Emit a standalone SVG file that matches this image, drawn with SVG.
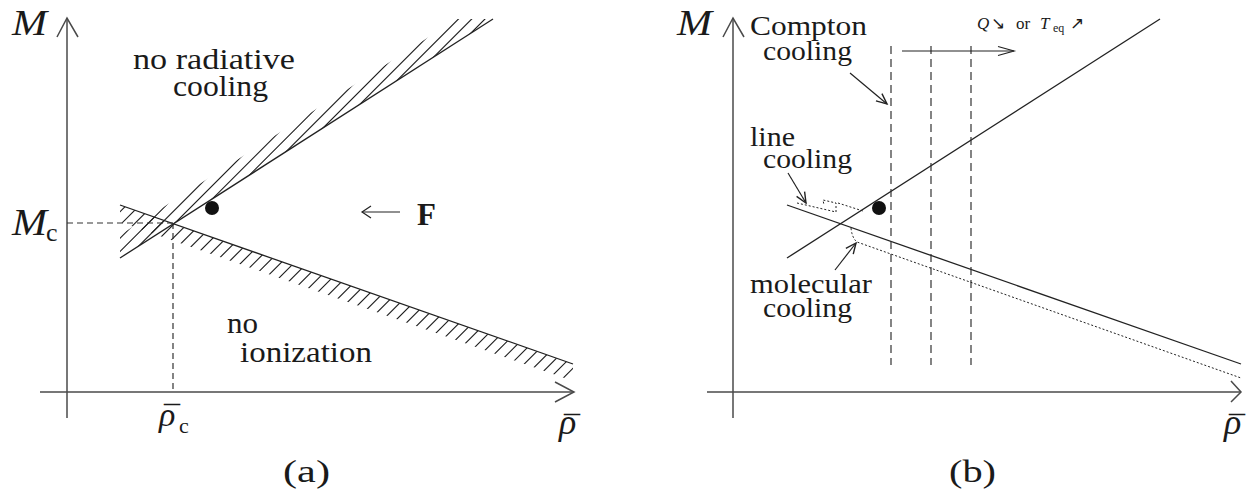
<svg xmlns="http://www.w3.org/2000/svg" width="1251" height="491" viewBox="0 0 1251 491">
<style>
.ax{stroke:#4a4a4a;stroke-width:1.5;fill:none}
.ln{stroke:#222;stroke-width:1.3;fill:none}
.hl{stroke:#222;stroke-width:1.15;fill:none}
.ds{stroke:#333;stroke-width:1.2;fill:none;stroke-dasharray:6 4}
.vd{stroke:#333;stroke-width:1.2;fill:none;stroke-dasharray:8 5}
.dt{stroke:#222;stroke-width:1;fill:none;stroke-dasharray:2 2}
.ar{stroke:#222;stroke-width:1.2;fill:none}
.t{font-family:"Liberation Serif","Times New Roman",serif;fill:#1a1a1a}
.i{font-style:italic}
.up{font-style:normal}
</style>
<defs>
<clipPath id="band-up"><polygon points="120,258 493,19 457,19 120,235"/></clipPath>
<clipPath id="band-lo"><polygon points="120,205 573,364 573,381 120,222"/></clipPath>
<marker id="ah" markerUnits="userSpaceOnUse" markerWidth="14" markerHeight="14" viewBox="-10 -6 12 12" refX="0" refY="0" orient="auto">
<path d="M-9,-4 L0,0 L-9,4" fill="none" stroke="#222" stroke-width="1.2"/>
</marker>
</defs>

<g id="panel-a">
<g id="axes-a">
<line class="ax" x1="67" y1="18" x2="67" y2="418"/>
<polyline class="ax" points="57,37 67,18 78,37"/>
<line class="ax" x1="40" y1="392" x2="574" y2="392"/>
<polyline class="ax" points="555,382 574,392 555,402"/>
<text class="t i" x="12" y="35" font-size="35" textLength="35" lengthAdjust="spacingAndGlyphs">M</text>
<text class="t i" font-size="36"><tspan x="559" y="434">ρ</tspan><tspan class="up" x="564" y="437.5" font-size="32" textLength="16" lengthAdjust="spacingAndGlyphs">¯</tspan></text>
</g>
<g id="hatch-a">
<path class="hl" clip-path="url(#band-up)" d="M98.25,260 L343.25,15 M111.5,260 L356.5,15 M124.75,260 L369.75,15 M138,260 L383,15 M151.25,260 L396.25,15 M164.5,260 L409.5,15 M177.75,260 L422.75,15 M191,260 L436,15 M204.25,260 L449.25,15 M217.5,260 L462.5,15 M230.75,260 L475.75,15 M244,260 L489,15"/>
<path class="hl" clip-path="url(#band-lo)" d="M-58.25,390 L141.75,190 M-45,390 L155,190 M-31.75,390 L168.25,190 M-18.5,390 L181.5,190 M-5.25,390 L194.75,190 M8,390 L208,190 M21.25,390 L221.25,190 M34.5,390 L234.5,190 M47.75,390 L247.75,190 M61,390 L261,190 M74.25,390 L274.25,190 M87.5,390 L287.5,190 M100.75,390 L300.75,190 M114,390 L314,190 M127.25,390 L327.25,190 M140.5,390 L340.5,190 M153.75,390 L353.75,190 M167,390 L367,190 M180.25,390 L380.25,190 M193.5,390 L393.5,190 M206.75,390 L406.75,190 M220,390 L420,190 M233.25,390 L433.25,190 M246.5,390 L446.5,190 M259.75,390 L459.75,190 M273,390 L473,190 M286.25,390 L486.25,190 M299.5,390 L499.5,190 M312.75,390 L512.75,190 M326,390 L526,190 M339.25,390 L539.25,190 M352.5,390 L552.5,190 M365.75,390 L565.75,190 M379,390 L579,190 M392.25,390 L592.25,190 M405.5,390 L605.5,190 M418.75,390 L618.75,190 M432,390 L632,190 M445.25,390 L645.25,190 M458.5,390 L658.5,190 M471.75,390 L671.75,190 M485,390 L685,190 M498.25,390 L698.25,190 M511.5,390 L711.5,190 M524.75,390 L724.75,190 M538,390 L738,190 M551.25,390 L751.25,190"/>
</g>
<g id="boundaries-a">
<line class="ln" x1="120" y1="258" x2="493" y2="19"/>
<line class="ln" x1="120" y1="205" x2="573" y2="364"/>
<line class="ds" x1="67" y1="223" x2="173" y2="223"/>
<line class="ds" x1="173" y1="223" x2="173" y2="392"/>
</g>
<g id="mc-label">
<text class="t i" font-size="37"><tspan x="12" y="235" textLength="35" lengthAdjust="spacingAndGlyphs">M</tspan><tspan class="up" x="46" y="241" font-size="26">c</tspan></text>
</g>
<g id="rhoc-label">
<text class="t i" font-size="34"><tspan x="159" y="426">ρ</tspan><tspan class="up" x="164" y="427.5" font-size="32" textLength="16" lengthAdjust="spacingAndGlyphs">¯</tspan><tspan class="up" x="179" y="433" font-size="22">c</tspan></text>
</g>
<circle id="dot-a" cx="212" cy="208" r="7" fill="#111"/>
<g id="force">
<line class="ar" x1="362" y1="212" x2="400" y2="212"/>
<polyline class="ar" points="371,206 362,212 371,218"/>
<text class="t" x="417" y="225" font-size="31" font-weight="bold">F</text>
</g>
<g id="label-norad">
<text class="t" x="133" y="69" font-size="29" textLength="162" lengthAdjust="spacingAndGlyphs">no radiative</text>
<text class="t" x="173" y="96" font-size="29" textLength="95" lengthAdjust="spacingAndGlyphs">cooling</text>
</g>
<g id="label-noion">
<text class="t" x="227" y="333" font-size="29" textLength="31" lengthAdjust="spacingAndGlyphs">no</text>
<text class="t" x="240" y="362" font-size="29" textLength="132" lengthAdjust="spacingAndGlyphs">ionization</text>
</g>
<text class="t" x="283" y="482" font-size="32" textLength="47" lengthAdjust="spacingAndGlyphs">(a)</text>
</g>

<g id="panel-b">
<g id="axes-b">
<line class="ax" x1="733" y1="18" x2="733" y2="418"/>
<polyline class="ax" points="723,37 733,18 744,37"/>
<line class="ax" x1="707" y1="392" x2="1241" y2="392"/>
<polyline class="ax" points="1231,381 1241,392 1231,402"/>
<text class="t i" x="677" y="35" font-size="35" textLength="35" lengthAdjust="spacingAndGlyphs">M</text>
<text class="t i" font-size="36"><tspan x="1224" y="434">ρ</tspan><tspan class="up" x="1229" y="437.5" font-size="32" textLength="16" lengthAdjust="spacingAndGlyphs">¯</tspan></text>
</g>
<g id="boundaries-b">
<line class="ln" x1="787" y1="258" x2="1160" y2="19"/>
<line class="ln" x1="787" y1="205" x2="1241" y2="364"/>
</g>
<g id="compton-lines">
<line class="vd" x1="891" y1="46" x2="891" y2="365"/>
<line class="vd" x1="931" y1="46" x2="931" y2="365"/>
<line class="vd" x1="971" y1="46" x2="971" y2="365"/>
</g>
<g id="shift-arrow">
<line class="ar" x1="902" y1="51" x2="1014" y2="51"/>
<polyline class="ar" points="998,46.5 1014,51 998,55.5"/>
<text class="t" y="29" font-size="17"><tspan class="i" x="977">Q</tspan><tspan x="991">↘</tspan><tspan x="1016">or</tspan><tspan class="i" x="1040">T</tspan><tspan x="1053" dy="3" font-size="12">eq</tspan><tspan x="1070" dy="-3">↗</tspan></text>
</g>
<circle id="dot-b" cx="879" cy="208" r="7" fill="#111"/>
<g id="cooling-curves">
<path class="dt" d="M797,203 L836,212 L836,203 L823,200 L824,205 M838,203 L863,211"/>
<path class="dt" d="M851,228 Q852,238 857,242 L1241,378"/>
</g>
<g id="label-compton">
<text class="t" x="750" y="35" font-size="27" textLength="117" lengthAdjust="spacingAndGlyphs">Compton</text>
<text class="t" x="763" y="60" font-size="27" textLength="89" lengthAdjust="spacingAndGlyphs">cooling</text>
<line class="ar" x1="850" y1="73" x2="887" y2="104" marker-end="url(#ah)"/>
</g>
<g id="label-line">
<text class="t" x="750" y="146" font-size="27" textLength="45" lengthAdjust="spacingAndGlyphs">line</text>
<text class="t" x="763" y="168" font-size="27" textLength="89" lengthAdjust="spacingAndGlyphs">cooling</text>
<line class="ar" x1="788" y1="173" x2="806" y2="203" marker-end="url(#ah)"/>
</g>
<g id="label-molecular">
<text class="t" x="750" y="293" font-size="27" textLength="122" lengthAdjust="spacingAndGlyphs">molecular</text>
<text class="t" x="763" y="317" font-size="27" textLength="89" lengthAdjust="spacingAndGlyphs">cooling</text>
<line class="ar" x1="835" y1="270" x2="856" y2="243" marker-end="url(#ah)"/>
</g>
<text class="t" x="949" y="482" font-size="32" textLength="47" lengthAdjust="spacingAndGlyphs">(b)</text>
</g>
</svg>
